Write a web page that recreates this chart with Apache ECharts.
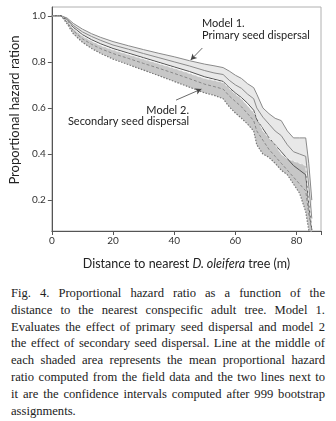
<!DOCTYPE html>
<html>
<head>
<meta charset="utf-8">
<script src="https://cdn.jsdelivr.net/npm/echarts@6/dist/echarts.min.js"></script>
<style>
  body { margin: 0; background: #fff; }
  #chart { position: absolute; left: 0; top: 0; width: 336px; height: 280px; }
  #caption { position: absolute; left: 11px; top: 285px; width: 314px;
    font-family: "Liberation Serif", serif; font-size: 12.6px; line-height: 16.8px; color: #222; }
  #caption div { text-align: justify; text-align-last: justify; white-space: nowrap; }
  #caption div.last { text-align-last: left; }
</style>
</head>
<body>
<div id="chart"></div>
<div id="caption">
  <div>Fig. 4. Proportional hazard ratio as a function of the</div>
  <div>distance to the nearest conspecific adult tree. Model 1.</div>
  <div>Evaluates the effect of primary seed dispersal and model 2</div>
  <div>the effect of secondary seed dispersal. Line at the middle of</div>
  <div>each shaded area represents the mean proportional hazard</div>
  <div>ratio computed from the field data and the two lines next to</div>
  <div>it are the confidence intervals computed after 999 bootstrap</div>
  <div class="last">assignments.</div>
</div>
<script>
// distance (m)
var distance = [0, 3, 5, 7, 10, 13, 16, 20, 25, 30, 35, 40, 45, 50, 53, 56, 58, 60, 62, 64, 66, 67, 69, 71, 73, 75, 77, 79, 81, 83, 84, 85];
// model 1 - primary seed dispersal
var m1Upper = [1, 1, 0.99, 0.967, 0.942, 0.922, 0.906, 0.888, 0.87, 0.853, 0.837, 0.822, 0.805, 0.79, 0.783, 0.775, 0.76, 0.742, 0.728, 0.705, 0.688, 0.66, 0.6, 0.575, 0.555, 0.545, 0.5, 0.47, 0.47, 0.47, 0.36, 0.2];
var m1Mean  = [1, 1, 0.985, 0.958, 0.93, 0.91, 0.893, 0.873, 0.855, 0.836, 0.818, 0.8, 0.782, 0.762, 0.752, 0.745, 0.72, 0.7, 0.685, 0.66, 0.64, 0.6, 0.56, 0.53, 0.5, 0.48, 0.44, 0.41, 0.4, 0.39, 0.26, 0.12];
var m1Lower = [1, 1, 0.98, 0.95, 0.918, 0.896, 0.878, 0.858, 0.838, 0.818, 0.798, 0.778, 0.758, 0.735, 0.725, 0.715, 0.688, 0.665, 0.645, 0.62, 0.59, 0.55, 0.51, 0.47, 0.44, 0.41, 0.38, 0.35, 0.33, 0.31, 0.18, 0.07];
// model 2 - secondary seed dispersal
var m2Upper = [1, 1, 0.978, 0.945, 0.912, 0.89, 0.871, 0.852, 0.832, 0.812, 0.792, 0.772, 0.75, 0.728, 0.72, 0.71, 0.685, 0.66, 0.64, 0.61, 0.58, 0.56, 0.5, 0.47, 0.44, 0.4, 0.38, 0.37, 0.36, 0.35, 0.2, 0.08];
var m2Mean  = [1, 1, 0.972, 0.935, 0.9, 0.876, 0.857, 0.836, 0.815, 0.793, 0.772, 0.75, 0.727, 0.703, 0.693, 0.682, 0.652, 0.628, 0.605, 0.575, 0.545, 0.5, 0.46, 0.42, 0.39, 0.36, 0.33, 0.3, 0.27, 0.24, 0.14, 0.07];
var m2Lower = [1, 1, 0.965, 0.922, 0.885, 0.858, 0.836, 0.812, 0.788, 0.764, 0.74, 0.715, 0.69, 0.665, 0.655, 0.64, 0.605, 0.578, 0.555, 0.53, 0.5, 0.44, 0.4, 0.385, 0.36, 0.33, 0.31, 0.27, 0.23, 0.15, 0.07, 0.06];

var xTicks = [0, 20, 40, 60, 80];
var yTicks = [0.2, 0.4, 0.6, 0.8, 1.0];

function pairs(ys) {
    return distance.map(function (x, i) { return [x, ys[i]]; });
}

var chart = echarts.init(document.getElementById('chart'));
var font = 'Lato';

// shaded confidence band, drawn as one polygon through the axes
function band(lo, up, color, opacity) {
    return {
        type: 'custom', silent: true, z: 1,
        data: [[distance[0], up[0]]],
        renderItem: function (params, api) {
            var pts = [];
            for (var i = 0; i < distance.length; i++) pts.push(api.coord([distance[i], up[i]]));
            for (var j = distance.length - 1; j >= 0; j--) pts.push(api.coord([distance[j], lo[j]]));
            return { type: 'polygon', shape: { points: pts }, style: { fill: color, opacity: opacity } };
        }
    };
}
function line(ys, color, type, width) {
    return {
        type: 'line', data: pairs(ys), symbol: 'none', silent: true, z: 3,
        lineStyle: { color: color, type: type, width: width }
    };
}

var series = [
    band(m1Lower, m1Upper, '#e8e8e8', 1),
    band(m2Lower, m2Upper, '#bdbdbd', 0.85),
    line(m1Upper, '#8a8a8a', 'solid', 1),
    line(m1Mean, '#8a8a8a', 'solid', 1),
    line(m1Lower, '#555', 'solid', 1),
    line(m2Upper, '#f2f2f2', [3, 2], 1),
    line(m2Mean, '#888', [3, 2], 1),
    line(m2Lower, '#777', [1.5, 1.5], 1.2)
];

// arrows pointing at the bands
series.push({
    type: 'line', data: [], silent: true,
    markLine: {
        silent: true, symbol: ['none', 'arrow'], symbolSize: [5, 6],
        label: { show: false },
        lineStyle: { color: '#444', type: 'solid', width: 0.8 },
        data: [
            [{ coord: [49.2, 0.86] }, { coord: [45.4, 0.808] }],
            [{ coord: [40.6, 0.634] }, { coord: [48.9, 0.682] }]
        ]
    }
});

var annStyle = { fontFamily: font, fontSize: 11, fill: '#222' };
function ann(text, x, y, align) {
    return { type: 'text', x: x, y: y, z: 10,
        style: echarts.util.extend({ text: text, align: align, verticalAlign: 'middle' }, annStyle) };
}

chart.setOption({
    animation: false,
    grid: { left: 45, top: 7, right: 15, bottom: 49, show: true, borderColor: '#b0b0b0', borderWidth: 1 },
    xAxis: {
        type: 'value', min: 0, max: 88, interval: 20,
        axisLine: { lineStyle: { color: '#555' } },
        axisTick: { length: 4, lineStyle: { color: '#555' } },
        axisLabel: { color: '#333', fontFamily: font, fontSize: 10, margin: 5,
            customValues: xTicks },
        splitLine: { show: false },
        name: '{n|Distance to nearest }{i|D. oleifera}{n| tree (m)}',
        nameLocation: 'middle', nameGap: 26,
        nameTextStyle: {
            rich: {
                n: { fontFamily: font, fontSize: 12.5, color: '#222' },
                i: { fontFamily: font, fontSize: 12.5, color: '#222', fontStyle: 'italic' }
            }
        }
    },
    yAxis: {
        type: 'value', min: 0.066, max: 1.038,
        axisLine: { show: true, lineStyle: { color: '#555' } },
        axisTick: { show: true, length: 4, lineStyle: { color: '#555' }, customValues: yTicks },
        axisLabel: { color: '#333', fontFamily: font, fontSize: 10, margin: 6,
            customValues: yTicks, formatter: function (v) { return v.toFixed(1); } },
        splitLine: { show: false },
        name: 'Proportional hazard ration', nameLocation: 'middle', nameGap: 19,
        nameTextStyle: { fontFamily: font, fontSize: 13, color: '#222', padding: [0, 0, 0, 18] }
    },
    graphic: [
        ann('Model 1.', 202, 23, 'left'),
        ann('Primary seed dispersal', 202, 35, 'left'),
        ann('Model 2.', 189, 110, 'right'),
        ann('Secondary seed dispersal', 189, 121, 'right')
    ],
    series: series
});
</script>
</body>
</html>
